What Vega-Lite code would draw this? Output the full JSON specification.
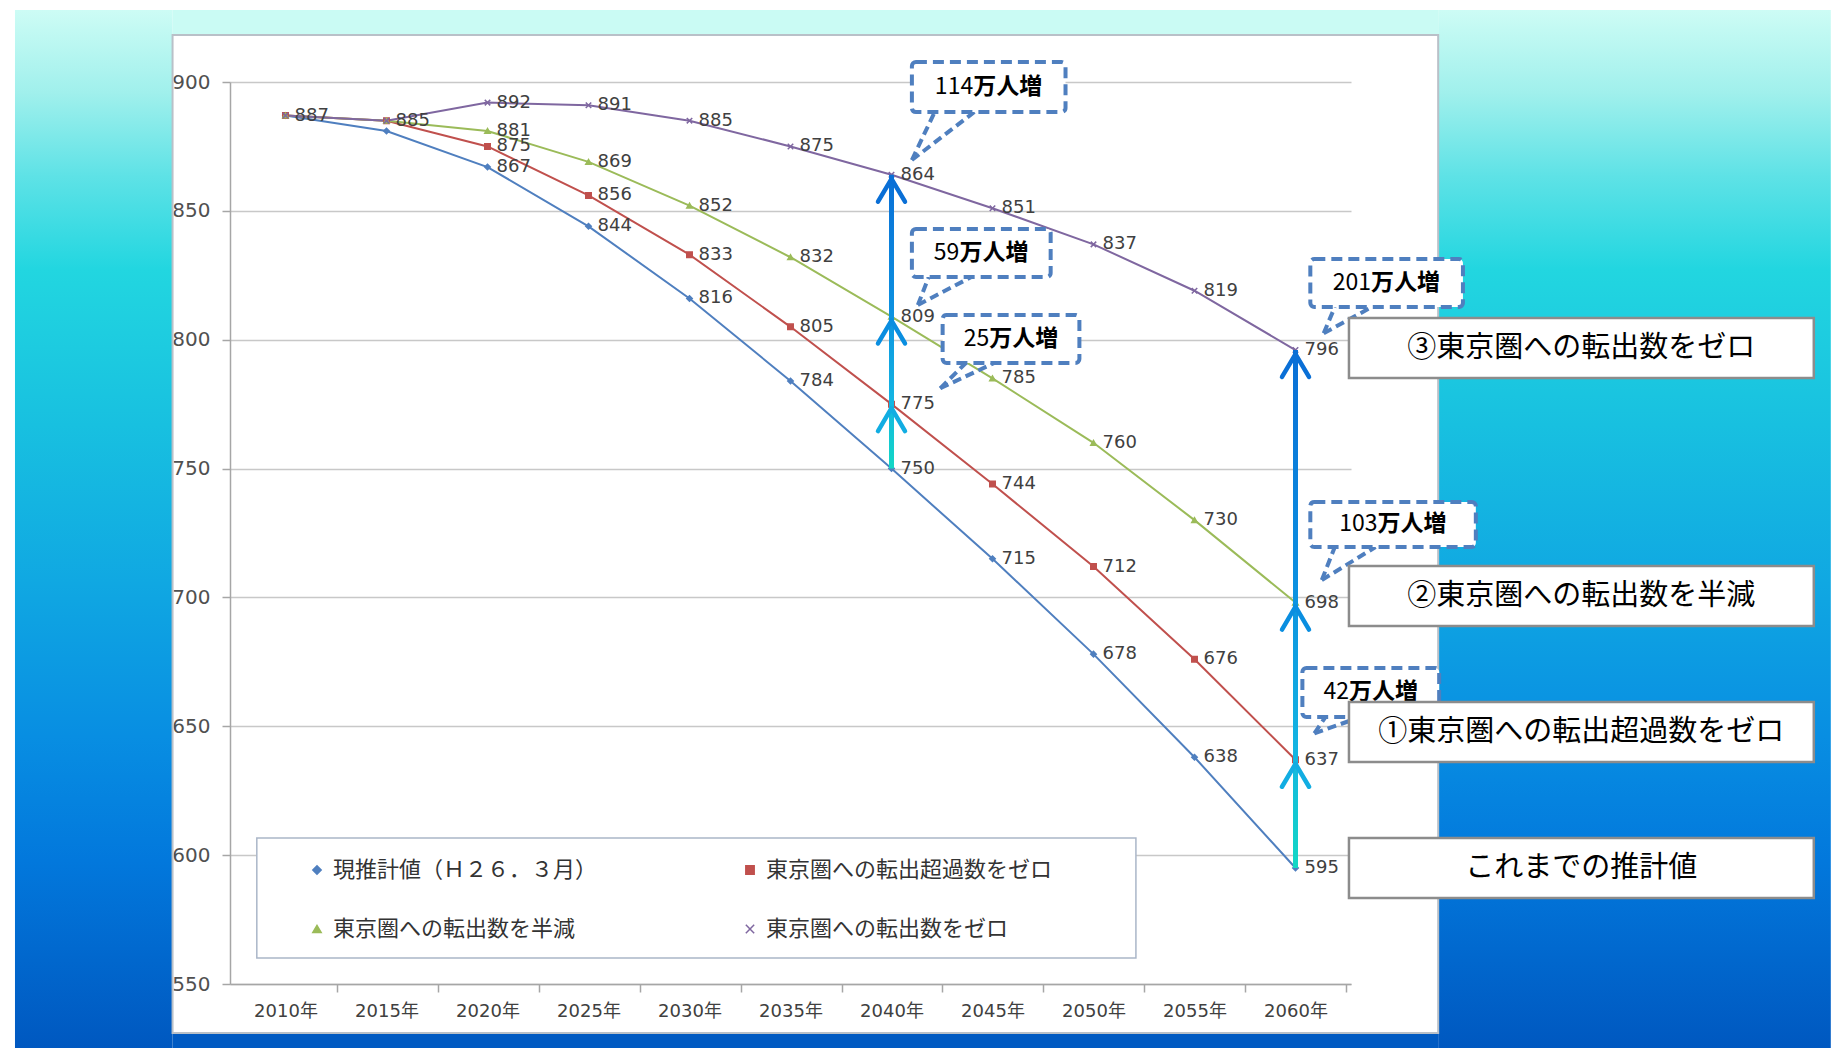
{
  "$schema": "https://vega.github.io/schema/vega-lite/v6.json",
  "width": 1121,
  "height": 902,
  "autosize": {"type": "none"},
  "padding": {"left": 230, "top": 82, "right": 485, "bottom": 64},
  "background": "white",
  "config": {
    "view": {"fill": "white", "stroke": null},
    "font": "DejaVu Sans"
  },
  "datasets": {
    "population": [
      {"series": "現推計値（Ｈ２６．３月）", "year": 2010, "value": 887},
      {"series": "現推計値（Ｈ２６．３月）", "year": 2015, "value": 881},
      {"series": "現推計値（Ｈ２６．３月）", "year": 2020, "value": 867},
      {"series": "現推計値（Ｈ２６．３月）", "year": 2025, "value": 844},
      {"series": "現推計値（Ｈ２６．３月）", "year": 2030, "value": 816},
      {"series": "現推計値（Ｈ２６．３月）", "year": 2035, "value": 784},
      {"series": "現推計値（Ｈ２６．３月）", "year": 2040, "value": 750},
      {"series": "現推計値（Ｈ２６．３月）", "year": 2045, "value": 715},
      {"series": "現推計値（Ｈ２６．３月）", "year": 2050, "value": 678},
      {"series": "現推計値（Ｈ２６．３月）", "year": 2055, "value": 638},
      {"series": "現推計値（Ｈ２６．３月）", "year": 2060, "value": 595},
      {"series": "東京圏への転出超過数をゼロ", "year": 2010, "value": 887},
      {"series": "東京圏への転出超過数をゼロ", "year": 2015, "value": 885},
      {"series": "東京圏への転出超過数をゼロ", "year": 2020, "value": 875},
      {"series": "東京圏への転出超過数をゼロ", "year": 2025, "value": 856},
      {"series": "東京圏への転出超過数をゼロ", "year": 2030, "value": 833},
      {"series": "東京圏への転出超過数をゼロ", "year": 2035, "value": 805},
      {"series": "東京圏への転出超過数をゼロ", "year": 2040, "value": 775},
      {"series": "東京圏への転出超過数をゼロ", "year": 2045, "value": 744},
      {"series": "東京圏への転出超過数をゼロ", "year": 2050, "value": 712},
      {"series": "東京圏への転出超過数をゼロ", "year": 2055, "value": 676},
      {"series": "東京圏への転出超過数をゼロ", "year": 2060, "value": 637},
      {"series": "東京圏への転出数を半減", "year": 2010, "value": 887},
      {"series": "東京圏への転出数を半減", "year": 2015, "value": 885},
      {"series": "東京圏への転出数を半減", "year": 2020, "value": 881},
      {"series": "東京圏への転出数を半減", "year": 2025, "value": 869},
      {"series": "東京圏への転出数を半減", "year": 2030, "value": 852},
      {"series": "東京圏への転出数を半減", "year": 2035, "value": 832},
      {"series": "東京圏への転出数を半減", "year": 2040, "value": 809},
      {"series": "東京圏への転出数を半減", "year": 2045, "value": 785},
      {"series": "東京圏への転出数を半減", "year": 2050, "value": 760},
      {"series": "東京圏への転出数を半減", "year": 2055, "value": 730},
      {"series": "東京圏への転出数を半減", "year": 2060, "value": 698},
      {"series": "東京圏への転出数をゼロ", "year": 2010, "value": 887},
      {"series": "東京圏への転出数をゼロ", "year": 2015, "value": 885},
      {"series": "東京圏への転出数をゼロ", "year": 2020, "value": 892},
      {"series": "東京圏への転出数をゼロ", "year": 2025, "value": 891},
      {"series": "東京圏への転出数をゼロ", "year": 2030, "value": 885},
      {"series": "東京圏への転出数をゼロ", "year": 2035, "value": 875},
      {"series": "東京圏への転出数をゼロ", "year": 2040, "value": 864},
      {"series": "東京圏への転出数をゼロ", "year": 2045, "value": 851},
      {"series": "東京圏への転出数をゼロ", "year": 2050, "value": 837},
      {"series": "東京圏への転出数をゼロ", "year": 2055, "value": 819},
      {"series": "東京圏への転出数をゼロ", "year": 2060, "value": 796}
    ]
  },
  "layer": [
    {
      "data": {"values": [{}]},
      "layer": [
        {
          "mark": {"type": "rect", "color": {"gradient": "linear", "x1": 0, "y1": 0, "x2": 0, "y2": 1, "stops": [
            {"offset": 0, "color": "#cdfcf5"}, {"offset": 0.08, "color": "#a0f0ec"}, {"offset": 0.16, "color": "#5ee2e6"},
            {"offset": 0.25, "color": "#22d6e0"}, {"offset": 0.4, "color": "#18c0e0"}, {"offset": 0.55, "color": "#10a8e2"},
            {"offset": 0.7, "color": "#088ee2"}, {"offset": 0.82, "color": "#0278dc"}, {"offset": 1, "color": "#0058c0"}]}},
          "encoding": {"x": {"datum": 1996.608}, "x2": {"datum": 2004.409}, "y": {"datum": 927.938}, "y2": {"datum": 525.166}}
        },
        {
          "mark": {"type": "rect", "color": {"gradient": "linear", "x1": 0, "y1": 0, "x2": 0, "y2": 1, "stops": [
            {"offset": 0, "color": "#cdfcf5"}, {"offset": 0.08, "color": "#a0f0ec"}, {"offset": 0.16, "color": "#5ee2e6"},
            {"offset": 0.25, "color": "#22d6e0"}, {"offset": 0.4, "color": "#18c0e0"}, {"offset": 0.55, "color": "#10a8e2"},
            {"offset": 0.7, "color": "#088ee2"}, {"offset": 0.82, "color": "#0278dc"}, {"offset": 1, "color": "#0058c0"}]}},
          "encoding": {"x": {"datum": 2067.063}, "x2": {"datum": 2086.5}, "y": {"datum": 927.938}, "y2": {"datum": 525.166}}
        },
        {
          "mark": {"type": "rect", "color": "#cafbf4"},
          "encoding": {"x": {"datum": 2004.409}, "x2": {"datum": 2067.063}, "y": {"datum": 927.938}, "y2": {"datum": 918.237}}
        },
        {
          "mark": {"type": "rect", "color": "#005ac2"},
          "encoding": {"x": {"datum": 2004.409}, "x2": {"datum": 2067.063}, "y": {"datum": 530.986}, "y2": {"datum": 524.5}}
        },
        {
          "mark": {"type": "rect", "filled": false, "stroke": "#b9c0c8", "strokeWidth": 2},
          "encoding": {"x": {"datum": 2004.409}, "x2": {"datum": 2067.063}, "y": {"datum": 918.237}, "y2": {"datum": 530.986}}
        },
        {
          "mark": {"type": "rect", "fill": "white", "stroke": "#aab6c8", "strokeWidth": 1.5},
          "encoding": {"x": {"datum": 2008.58}, "x2": {"datum": 2052.1}, "y": {"datum": 606.65}, "y2": {"datum": 560.09}}
        }
      ]
    },
    {
      "data": {"name": "population"},
      "layer": [
        {
          "mark": {"type": "line", "strokeWidth": 2},
          "encoding": {
            "x": {
              "field": "year", "type": "quantitative",
              "scale": {"domain": [2007.5, 2062.5], "nice": false, "zero": false},
              "axis": {
                "title": null, "grid": false,
                "values": [2010, 2015, 2020, 2025, 2030, 2035, 2040, 2045, 2050, 2055, 2060],
                "labelExpr": "datum.value + '年'",
                "tickOffset": 51, "labelOffset": -51, "tickSize": 8,
                "tickColor": "#a6a6a6", "domainColor": "#a6a6a6", "domainWidth": 1.5, "tickWidth": 1.5,
                "labelFont": "DejaVu Sans, Noto Sans CJK JP", "labelFontSize": 18, "labelColor": "#404040",
                "labelPadding": 10, "labelFlush": false, "labelOverlap": false
              }
            },
            "y": {
              "field": "value", "type": "quantitative",
              "scale": {"domain": [550, 900], "nice": false, "zero": false},
              "axis": {
                "title": null, "grid": true,
                "values": [550, 600, 650, 700, 750, 800, 850, 900],
                "gridColor": "#c8c8c8", "gridWidth": 1.5,
                "tickSize": 8, "tickColor": "#a6a6a6", "tickWidth": 1.5,
                "domainColor": "#a6a6a6", "domainWidth": 1.5,
                "labelFont": "DejaVu Sans", "labelFontSize": 20, "labelColor": "#505050", "labelPadding": 12
              }
            },
            "color": {
              "field": "series", "type": "nominal",
              "scale": {
                "domain": ["現推計値（Ｈ２６．３月）", "東京圏への転出超過数をゼロ", "東京圏への転出数を半減", "東京圏への転出数をゼロ"],
                "range": ["#4f7fbf", "#c0504d", "#9bbb59", "#7f67a0"]
              },
              "legend": {
                "title": null, "orient": "none", "legendX": 76, "legendY": 777,
                "direction": "horizontal", "columns": 2, "columnPadding": 141, "rowPadding": 37, "padding": 0,
                "symbolSize": 70, "symbolStrokeWidth": 1.5,
                "labelFont": "Noto Sans CJK JP", "labelFontSize": 22, "labelColor": "#333333",
                "labelOffset": 5, "labelLimit": 500
              }
            }
          }
        },
        {
          "mark": {"type": "point", "filled": true, "size": 30, "opacity": 1, "strokeWidth": 1.5},
          "encoding": {
            "x": {"field": "year", "type": "quantitative"},
            "y": {"field": "value", "type": "quantitative"},
            "color": {"field": "series", "type": "nominal", "legend": null},
            "stroke": {
              "field": "series", "type": "nominal", "legend": null,
              "scale": {
                "domain": ["現推計値（Ｈ２６．３月）", "東京圏への転出超過数をゼロ", "東京圏への転出数を半減", "東京圏への転出数をゼロ"],
                "range": ["#4f7fbf", "#c0504d", "#9bbb59", "#7f67a0"]
              }
            },
            "shape": {
              "field": "series", "type": "nominal", "legend": null,
              "scale": {
                "domain": ["現推計値（Ｈ２６．３月）", "東京圏への転出超過数をゼロ", "東京圏への転出数を半減", "東京圏への転出数をゼロ"],
                "range": ["diamond", "square", "triangle-up", "M-1,-1L1,1M-1,1L1,-1"]
              }
            }
          }
        },
        {
          "transform": [{"filter": "datum.year >= 2020 || datum.series === '東京圏への転出数をゼロ'"}],
          "mark": {"type": "text", "align": "left", "baseline": "middle", "dx": 9, "font": "DejaVu Sans", "fontSize": 18, "color": "#404040"},
          "encoding": {
            "x": {"field": "year", "type": "quantitative"},
            "y": {"field": "value", "type": "quantitative"},
            "text": {"field": "value", "type": "quantitative"}
          }
        },
        {
          "transform": [
            {"filter": "datum.year === 2040 || datum.year === 2060"},
            {"aggregate": [{"op": "min", "field": "value", "as": "lo"}, {"op": "max", "field": "value", "as": "hi"}], "groupby": ["year"]}
          ],
          "mark": {"type": "bar", "width": 5, "color": {"gradient": "linear", "x1": 0, "y1": 0, "x2": 0, "y2": 1, "stops": [
            {"offset": 0, "color": "#0a6fd6"}, {"offset": 0.45, "color": "#0c90e0"}, {"offset": 0.78, "color": "#14b6e2"}, {"offset": 1, "color": "#12d8c4"}]}},
          "encoding": {
            "x": {"field": "year", "type": "quantitative"},
            "y": {"field": "lo", "type": "quantitative"},
            "y2": {"field": "hi"}
          }
        },
        {
          "transform": [{"filter": "(datum.year === 2040 || datum.year === 2060) && datum.series !== '現推計値（Ｈ２６．３月）'"}],
          "mark": {"type": "point", "shape": "M-1,1.7L0,0L1,1.7", "size": 729, "filled": false, "strokeWidth": 4.5, "strokeCap": "round", "strokeJoin": "round", "opacity": 1, "yOffset": 4},
          "encoding": {
            "x": {"field": "year", "type": "quantitative"},
            "y": {"field": "value", "type": "quantitative"},
            "stroke": {
              "condition": [
                {"test": "datum.series === '東京圏への転出数をゼロ'", "value": "#0a6fd6"},
                {"test": "datum.series === '東京圏への転出数を半減'", "value": "#0a8ee0"}
              ],
              "value": "#12ade2"
            }
          }
        }
      ]
    },
    {
      "data": {"values": [{}]},
      "layer": [
        {"layer": [
          {"mark": {"type": "rule", "stroke": "#4f7fbf", "strokeWidth": 4, "strokeDash": [9, 5]},
           "encoding": {"x": {"datum": 2041.010}, "y": {"datum": 869.734}, "x2": {"datum": 2042.139}, "y2": {"datum": 888.359}}},
          {"mark": {"type": "rule", "stroke": "#4f7fbf", "strokeWidth": 4, "strokeDash": [9, 5]},
           "encoding": {"x": {"datum": 2041.010}, "y": {"datum": 869.734}, "x2": {"datum": 2044.101}, "y2": {"datum": 888.359}}},
          {"mark": {"type": "rect", "fill": "white", "stroke": "#4f7fbf", "strokeWidth": 4, "strokeDash": [11, 6], "cornerRadius": 4},
           "encoding": {"x": {"datum": 2041.010}, "x2": {"datum": 2048.615}, "y": {"datum": 907.761}, "y2": {"datum": 888.359}}},
          {"mark": {"type": "text", "text": "114", "align": "right", "baseline": "middle", "dx": -15.5, "font": "Noto Sans CJK JP", "fontSize": 23, "color": "black"},
           "encoding": {"x": {"datum": 2044.81}, "y": {"datum": 898.06}}},
          {"mark": {"type": "text", "text": "万人増", "align": "left", "baseline": "middle", "dx": -15.5, "font": "Noto Sans CJK JP", "fontSize": 23, "fontWeight": "bold", "color": "black"},
           "encoding": {"x": {"datum": 2044.81}, "y": {"datum": 898.06}}}
        ]},
        {"layer": [
          {"mark": {"type": "rule", "stroke": "#4f7fbf", "strokeWidth": 4, "strokeDash": [9, 5]},
           "encoding": {"x": {"datum": 2041.305}, "y": {"datum": 813.470}, "x2": {"datum": 2041.844}, "y2": {"datum": 824.335}}},
          {"mark": {"type": "rule", "stroke": "#4f7fbf", "strokeWidth": 4, "strokeDash": [9, 5]},
           "encoding": {"x": {"datum": 2041.305}, "y": {"datum": 813.470}, "x2": {"datum": 2043.954}, "y2": {"datum": 824.335}}},
          {"mark": {"type": "rect", "fill": "white", "stroke": "#4f7fbf", "strokeWidth": 4, "strokeDash": [11, 6], "cornerRadius": 4},
           "encoding": {"x": {"datum": 2041.010}, "x2": {"datum": 2047.879}, "y": {"datum": 842.960}, "y2": {"datum": 824.335}}},
          {"mark": {"type": "text", "text": "59", "align": "right", "baseline": "middle", "dx": -21.8, "font": "Noto Sans CJK JP", "fontSize": 23, "color": "black"},
           "encoding": {"x": {"datum": 2044.44}, "y": {"datum": 833.65}}},
          {"mark": {"type": "text", "text": "万人増", "align": "left", "baseline": "middle", "dx": -21.8, "font": "Noto Sans CJK JP", "fontSize": 23, "fontWeight": "bold", "color": "black"},
           "encoding": {"x": {"datum": 2044.44}, "y": {"datum": 833.65}}}
        ]},
        {"layer": [
          {"mark": {"type": "rule", "stroke": "#4f7fbf", "strokeWidth": 4, "strokeDash": [9, 5]},
           "encoding": {"x": {"datum": 2042.413}, "y": {"datum": 781.147}, "x2": {"datum": 2043.679}, "y2": {"datum": 790.964}}},
          {"mark": {"type": "rule", "stroke": "#4f7fbf", "strokeWidth": 4, "strokeDash": [9, 5]},
           "encoding": {"x": {"datum": 2042.413}, "y": {"datum": 781.147}, "x2": {"datum": 2045.087}, "y2": {"datum": 790.964}}},
          {"mark": {"type": "rect", "fill": "white", "stroke": "#4f7fbf", "strokeWidth": 4, "strokeDash": [11, 6], "cornerRadius": 4},
           "encoding": {"x": {"datum": 2042.531}, "x2": {"datum": 2049.302}, "y": {"datum": 809.590}, "y2": {"datum": 790.964}}},
          {"mark": {"type": "text", "text": "25", "align": "right", "baseline": "middle", "dx": -21.8, "font": "Noto Sans CJK JP", "fontSize": 23, "color": "black"},
           "encoding": {"x": {"datum": 2045.92}, "y": {"datum": 800.28}}},
          {"mark": {"type": "text", "text": "万人増", "align": "left", "baseline": "middle", "dx": -21.8, "font": "Noto Sans CJK JP", "fontSize": 23, "fontWeight": "bold", "color": "black"},
           "encoding": {"x": {"datum": 2045.92}, "y": {"datum": 800.28}}}
        ]},
        {"layer": [
          {"mark": {"type": "rule", "stroke": "#4f7fbf", "strokeWidth": 4, "strokeDash": [9, 5]},
           "encoding": {"x": {"datum": 2061.396}, "y": {"datum": 802.489}, "x2": {"datum": 2061.945}, "y2": {"datum": 812.694}}},
          {"mark": {"type": "rule", "stroke": "#4f7fbf", "strokeWidth": 4, "strokeDash": [9, 5]},
           "encoding": {"x": {"datum": 2061.396}, "y": {"datum": 802.489}, "x2": {"datum": 2063.780}, "y2": {"datum": 812.694}}},
          {"mark": {"type": "rect", "fill": "white", "stroke": "#4f7fbf", "strokeWidth": 4, "strokeDash": [11, 6], "cornerRadius": 4},
           "encoding": {"x": {"datum": 2060.734}, "x2": {"datum": 2068.289}, "y": {"datum": 831.319}, "y2": {"datum": 812.694}}},
          {"mark": {"type": "text", "text": "201", "align": "right", "baseline": "middle", "dx": -15.5, "font": "Noto Sans CJK JP", "fontSize": 23, "color": "black"},
           "encoding": {"x": {"datum": 2064.51}, "y": {"datum": 822.01}}},
          {"mark": {"type": "text", "text": "万人増", "align": "left", "baseline": "middle", "dx": -15.5, "font": "Noto Sans CJK JP", "fontSize": 23, "fontWeight": "bold", "color": "black"},
           "encoding": {"x": {"datum": 2064.51}, "y": {"datum": 822.01}}}
        ]},
        {"layer": [
          {"mark": {"type": "rule", "stroke": "#4f7fbf", "strokeWidth": 4, "strokeDash": [9, 5]},
           "encoding": {"x": {"datum": 2061.303}, "y": {"datum": 706.763}, "x2": {"datum": 2061.945}, "y2": {"datum": 719.567}}},
          {"mark": {"type": "rule", "stroke": "#4f7fbf", "strokeWidth": 4, "strokeDash": [9, 5]},
           "encoding": {"x": {"datum": 2061.303}, "y": {"datum": 706.763}, "x2": {"datum": 2063.962}, "y2": {"datum": 719.567}}},
          {"mark": {"type": "rect", "fill": "white", "stroke": "#4f7fbf", "strokeWidth": 4, "strokeDash": [11, 6], "cornerRadius": 4},
           "encoding": {"x": {"datum": 2060.734}, "x2": {"datum": 2068.927}, "y": {"datum": 737.029}, "y2": {"datum": 719.567}}},
          {"mark": {"type": "text", "text": "103", "align": "right", "baseline": "middle", "dx": -15.5, "font": "Noto Sans CJK JP", "fontSize": 23, "color": "black"},
           "encoding": {"x": {"datum": 2064.83}, "y": {"datum": 728.30}}},
          {"mark": {"type": "text", "text": "万人増", "align": "left", "baseline": "middle", "dx": -15.5, "font": "Noto Sans CJK JP", "fontSize": 23, "fontWeight": "bold", "color": "black"},
           "encoding": {"x": {"datum": 2064.83}, "y": {"datum": 728.30}}}
        ]},
        {"layer": [
          {"mark": {"type": "rule", "stroke": "#4f7fbf", "strokeWidth": 4, "strokeDash": [9, 5]},
           "encoding": {"x": {"datum": 2060.935}, "y": {"datum": 647.278}, "x2": {"datum": 2061.484}, "y2": {"datum": 653.603}}},
          {"mark": {"type": "rule", "stroke": "#4f7fbf", "strokeWidth": 4, "strokeDash": [9, 5]},
           "encoding": {"x": {"datum": 2060.935}, "y": {"datum": 647.278}, "x2": {"datum": 2063.226}, "y2": {"datum": 653.603}}},
          {"mark": {"type": "rect", "fill": "white", "stroke": "#4f7fbf", "strokeWidth": 4, "strokeDash": [11, 6], "cornerRadius": 4},
           "encoding": {"x": {"datum": 2060.341}, "x2": {"datum": 2067.112}, "y": {"datum": 672.616}, "y2": {"datum": 653.603}}},
          {"mark": {"type": "text", "text": "42", "align": "right", "baseline": "middle", "dx": -21.8, "font": "Noto Sans CJK JP", "fontSize": 23, "color": "black"},
           "encoding": {"x": {"datum": 2063.73}, "y": {"datum": 663.11}}},
          {"mark": {"type": "text", "text": "万人増", "align": "left", "baseline": "middle", "dx": -21.8, "font": "Noto Sans CJK JP", "fontSize": 23, "fontWeight": "bold", "color": "black"},
           "encoding": {"x": {"datum": 2063.73}, "y": {"datum": 663.11}}}
        ]},
        {"layer": [
          {"mark": {"type": "rect", "fill": "white", "stroke": "#8c8c8c", "strokeWidth": 2.5},
           "encoding": {"x": {"datum": 2062.647}, "x2": {"datum": 2085.658}, "y": {"datum": 808.42}, "y2": {"datum": 785.14}}},
          {"mark": {"type": "text", "text": "③東京圏への転出数をゼロ", "align": "center", "baseline": "middle", "font": "Noto Sans CJK JP", "fontSize": 29, "color": "black"},
           "encoding": {"x": {"datum": 2074.15}, "y": {"datum": 796.78}}},
          {"mark": {"type": "rect", "fill": "white", "stroke": "#8c8c8c", "strokeWidth": 2.5},
           "encoding": {"x": {"datum": 2062.647}, "x2": {"datum": 2085.658}, "y": {"datum": 712.19}, "y2": {"datum": 688.91}}},
          {"mark": {"type": "text", "text": "②東京圏への転出数を半減", "align": "center", "baseline": "middle", "font": "Noto Sans CJK JP", "fontSize": 29, "color": "black"},
           "encoding": {"x": {"datum": 2074.15}, "y": {"datum": 700.55}}},
          {"mark": {"type": "rect", "fill": "white", "stroke": "#8c8c8c", "strokeWidth": 2.5},
           "encoding": {"x": {"datum": 2062.647}, "x2": {"datum": 2085.658}, "y": {"datum": 659.42}, "y2": {"datum": 636.14}}},
          {"mark": {"type": "text", "text": "①東京圏への転出超過数をゼロ", "align": "center", "baseline": "middle", "font": "Noto Sans CJK JP", "fontSize": 29, "color": "black"},
           "encoding": {"x": {"datum": 2074.15}, "y": {"datum": 647.78}}},
          {"mark": {"type": "rect", "fill": "white", "stroke": "#8c8c8c", "strokeWidth": 2.5},
           "encoding": {"x": {"datum": 2062.647}, "x2": {"datum": 2085.658}, "y": {"datum": 606.65}, "y2": {"datum": 583.37}}},
          {"mark": {"type": "text", "text": "これまでの推計値", "align": "center", "baseline": "middle", "font": "Noto Sans CJK JP", "fontSize": 29, "color": "black"},
           "encoding": {"x": {"datum": 2074.15}, "y": {"datum": 595.01}}}
        ]}
      ]
    }
  ]
}
